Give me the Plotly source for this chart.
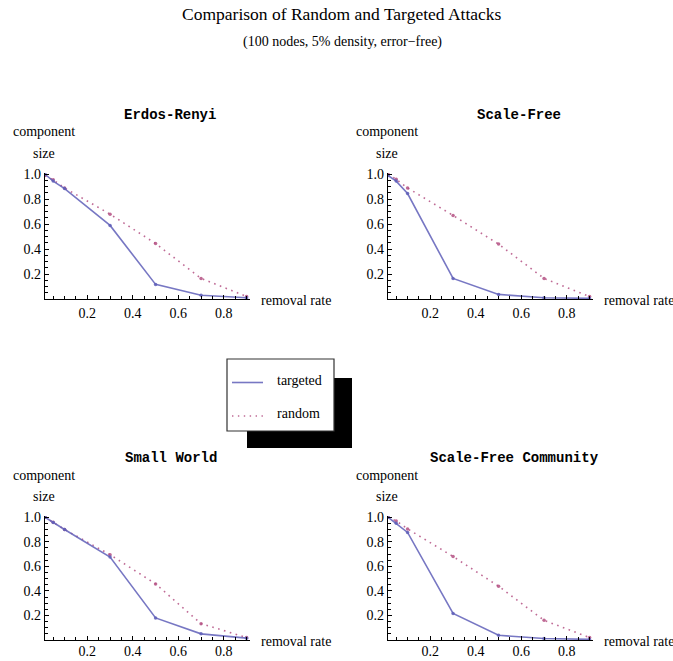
import plotly.graph_objects as go

W, H = 673, 661

removal_rate = [0.014, 0.05, 0.1, 0.3, 0.5, 0.7, 0.9]

panel_titles = ["Erdos-Renyi", "Scale-Free", "Small World", "Scale-Free Community"]

targeted = {
    "Erdos-Renyi":          [1.00, 0.945, 0.885, 0.59, 0.117, 0.03, 0.01],
    "Scale-Free":           [0.99, 0.945, 0.845, 0.165, 0.037, 0.01, 0.005],
    "Small World":          [1.00, 0.957, 0.90, 0.676, 0.18, 0.05, 0.015],
    "Scale-Free Community": [1.00, 0.95, 0.876, 0.216, 0.038, 0.012, 0.005],
}
random_attack = {
    "Erdos-Renyi":          [0.99, 0.955, 0.89, 0.68, 0.445, 0.165, 0.02],
    "Scale-Free":           [1.00, 0.96, 0.89, 0.67, 0.44, 0.165, 0.02],
    "Small World":          [1.00, 0.96, 0.90, 0.695, 0.457, 0.133, 0.02],
    "Scale-Free Community": [1.00, 0.97, 0.905, 0.68, 0.438, 0.16, 0.02],
}

x_ticks = [0.2, 0.4, 0.6, 0.8]
y_ticks = [0.2, 0.4, 0.6, 0.8, 1.0]


def fx(px):
    return px / W


def fy(py):
    return (H - py) / H


# pixel boxes in window coords: (left, right, y at 0, y at 1.01, label standoff)
boxes = [
    (45, 250, 299, 173, 1),
    (388, 593, 299, 173, 1),
    (45, 250, 640, 516, -2),
    (388, 593, 640, 516, -2),
]

BLUE = "rgba(95,95,185,0.85)"
PINK = "rgba(180,80,130,0.85)"
SERIF = "Liberation Serif"
MONO = "Liberation Mono"


def label(text, x, y, size=14, family=SERIF, xanchor="center"):
    return dict(text=text, x=fx(x), y=fy(y), xref="paper", yref="paper",
                showarrow=False, xanchor=xanchor, yanchor="middle",
                font=dict(family=family, size=size, color="black"))


fig = go.Figure()
annotations = []
for i, name in enumerate(panel_titles):
    l, r, yb, yt, so = boxes[i]
    k = "" if i == 0 else str(i + 1)
    fig.add_trace(go.Scatter(
        x=removal_rate, y=random_attack[name], mode="lines+markers",
        line=dict(color=PINK, width=1.6, dash="1.6px,4.5px"),
        marker=dict(size=3.5, color=PINK), showlegend=False,
        xaxis="x" + k, yaxis="y" + k, name="random"))
    fig.add_trace(go.Scatter(
        x=removal_rate, y=targeted[name], mode="lines+markers",
        line=dict(color=BLUE, width=1.6),
        marker=dict(size=3.5, color=BLUE), showlegend=False,
        xaxis="x" + k, yaxis="y" + k, name="targeted"))
    ax = dict(
        domain=[fx(l), fx(r)], range=[0.014, 0.915], anchor="y" + k, automargin=False,
        showgrid=False, zeroline=False, showline=True, linecolor="black", linewidth=1.2,
        ticks="inside", ticklen=4, tickwidth=1, tickcolor="black",
        tickvals=x_ticks, ticktext=[f"{v:.1f}" for v in x_ticks],
        minor=dict(ticks="inside", ticklen=2.5, dtick=0.05, tick0=0, tickcolor="black"),
        tickfont=dict(family=SERIF, size=14, color="black"), ticklabelstandoff=so,
    )
    ay = dict(
        domain=[fy(yb), fy(yt)], range=[0, 1.01], anchor="x" + k, automargin=False,
        showgrid=False, zeroline=False, showline=True, linecolor="black", linewidth=1.2,
        ticks="inside", ticklen=4, tickwidth=1, tickcolor="black",
        tickvals=y_ticks, ticktext=[f"{v:.1f}" for v in y_ticks],
        minor=dict(ticks="inside", ticklen=2.5, dtick=0.05, tick0=0, tickcolor="black"),
        tickfont=dict(family=SERIF, size=14, color="black"),
    )
    fig.update_layout(**{"xaxis" + k: ax, "yaxis" + k: ay})

    title_cx = [170, 519, 171, 514][i]
    annotations.append(label("<b>" + name + "</b>", title_cx, yt - 58, family=MONO))
    annotations.append(label("component", l - 1, yt - 41))
    annotations.append(label("size", l - 1, yt - 20))
    annotations.append(label("removal rate", r + 9, yb + 1, xanchor="left"))

annotations.append(label("Comparison of Random and Targeted Attacks", 342, 14, size=17.5))
annotations.append(label("(100 nodes, 5% density, error\u2212free)", 342, 42, size=14))

# legend box with drop shadow
shapes = [
    dict(type="rect", xref="paper", yref="paper", x0=fx(247), x1=fx(352),
         y0=fy(448), y1=fy(378), fillcolor="black", line=dict(width=0)),
    dict(type="rect", xref="paper", yref="paper", x0=fx(227), x1=fx(334),
         y0=fy(431), y1=fy(359), fillcolor="white", line=dict(color="#333", width=1.2)),
    dict(type="line", xref="paper", yref="paper", x0=fx(232), x1=fx(263),
         y0=fy(382.5), y1=fy(382.5), line=dict(color=BLUE, width=1.6)),
    dict(type="line", xref="paper", yref="paper", x0=fx(232), x1=fx(263),
         y0=fy(416), y1=fy(416), line=dict(color=PINK, width=1.4, dash="1.4px,4.5px")),
]
annotations.append(label("targeted", 275, 380, xanchor="left"))
annotations.append(label("random", 275, 413, xanchor="left"))

fig.update_layout(width=W, height=H, margin=dict(l=0, r=0, t=0, b=0, autoexpand=False),
                  paper_bgcolor="white", plot_bgcolor="white",
                  annotations=annotations, shapes=shapes, showlegend=False)

fig.write_html("out.html", config={"displayModeBar": False},
               post_script="document.body.style.margin='0px';document.body.style.overflow='hidden';")
